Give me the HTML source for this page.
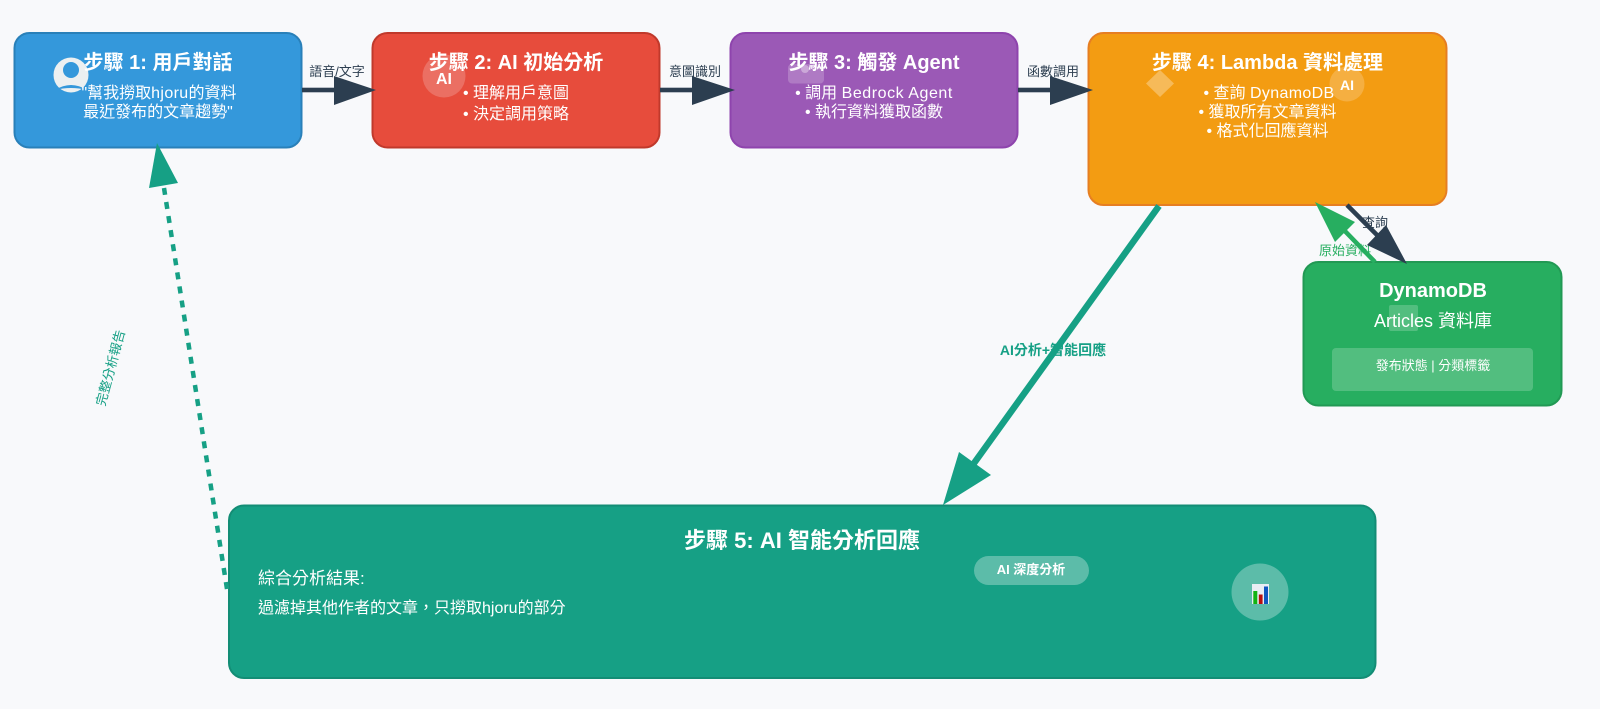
<!DOCTYPE html>
<html><head><meta charset="utf-8"><style>
html,body{margin:0;padding:0;background:#f8f9fb;width:1600px;height:709px;overflow:hidden}
svg{display:block}
text{font-family:"Liberation Sans","Noto Sans CJK TC",sans-serif;text-anchor:middle}
.w{fill:#fff}.t{font-size:20px;font-weight:700;fill:#fff}.b{font-size:16px;fill:#fff}.l{font-size:13px;fill:#2c3e50}
.s{letter-spacing:.35px}
</style></head><body>
<svg width="1600" height="709" viewBox="0 0 1600 709" xmlns="http://www.w3.org/2000/svg">
<rect width="1600" height="709" fill="#f8f9fb"/>
<rect x="14.500" y="33" width="287" height="114.500" rx="15" fill="#3498db" stroke="#2980b9" stroke-width="2"/>
<rect x="372.500" y="33" width="287" height="114.500" rx="15" fill="#e74c3c" stroke="#c0392b" stroke-width="2"/>
<rect x="730.500" y="33" width="287" height="114.500" rx="15" fill="#9b59b6" stroke="#8e44ad" stroke-width="2"/>
<rect x="1088.500" y="33" width="358" height="172" rx="15" fill="#f39c12" stroke="#e67e22" stroke-width="2"/>
<rect x="1303.500" y="262" width="258" height="143.500" rx="15" fill="#27ae60" stroke="#229954" stroke-width="2"/>
<rect x="229" y="505.500" width="1146.500" height="172.500" rx="15" fill="#16a085" stroke="#138d75" stroke-width="2"/>

<circle cx="71" cy="75" r="17.500" fill="#ecf0f1"/>
<circle cx="71" cy="70" r="8" fill="#3498db"/>
<path d="M55 90Q71 80 87 90Q71 86 55 90Z" fill="#3498db"/>
<circle cx="444" cy="76" r="21.500" fill="#fff" fill-opacity=".2"/>
<rect x="788" y="64" width="36" height="19.500" rx="4" fill="#fff" fill-opacity=".2"/>
<circle cx="805" cy="69" r="4" fill="#fff" fill-opacity=".35"/>
<polygon points="1160,70 1174,83.500 1160,97 1146,83.500" fill="#fff" fill-opacity=".3"/>
<circle cx="1347" cy="84" r="17.500" fill="#fff" fill-opacity=".2"/>
<rect x="1389" y="305" width="29" height="26" rx="2" fill="#fff" fill-opacity=".2"/>
<rect x="1332" y="348" width="201" height="43" rx="4" fill="#fff" fill-opacity=".2"/>
<rect x="974" y="556" width="115" height="29" rx="14.500" fill="#fff" fill-opacity=".3"/>
<circle cx="1260" cy="592" r="28.500" fill="#fff" fill-opacity=".3"/>
<rect x="1252" y="584" width="17" height="20" fill="#e8edf3"/>
<rect x="1253.300" y="591" width="4" height="13" fill="#12b312"/>
<rect x="1258.800" y="594.500" width="3.800" height="9.500" fill="#b80f0f"/>
<rect x="1264" y="586.500" width="4" height="17.500" fill="#0f56c0"/>

<text class="t" x="158" y="69">步驟 1: 用戶對話</text>
<text class="b" x="159" y="98">"幫我撈取<tspan class="s">hjoru</tspan>的資料</text>
<text class="b" x="158" y="117">最近發布的文章趨勢"</text>
<text class="t" x="516" y="69">步驟 2: AI 初始分析</text>
<text x="444" y="84" font-size="16" font-weight="700" fill="#fff">AI</text>
<text class="b" x="516" y="98">• 理解用戶意圖</text>
<text class="b" x="516" y="119">• 決定調用策略</text>
<text class="t" x="874" y="69">步驟 3: 觸發 Agent</text>
<text class="b" x="874" y="98">• 調用 <tspan style="letter-spacing:.55px">Bedrock Agent</tspan></text>
<text class="b" x="874" y="117">• 執行資料獲取函數</text>
<text class="t" x="1267.500" y="69">步驟 4: Lambda 資料處理</text>
<text x="1347" y="90" font-size="14" font-weight="700" fill="#fff">AI</text>
<text class="b" x="1269" y="98">• 查詢 <tspan class="s">DynamoDB</tspan></text>
<text class="b" x="1267.500" y="117">• 獲取所有文章資料</text>
<text class="b" x="1267.500" y="136">• 格式化回應資料</text>
<text class="t" x="1433" y="297">DynamoDB</text>
<text x="1433" y="327" font-size="18" fill="#fff">Articles 資料庫</text>
<text x="1433" y="370" font-size="13" fill="#fff">發布狀態 | 分類標籤</text>
<text x="802" y="548" font-size="22" font-weight="700" fill="#fff">步驟 5: AI 智能分析回應</text>
<text x="258" y="584" font-size="17" fill="#fff" style="text-anchor:start">綜合分析結果:</text>
<text x="258" y="613" font-size="16" fill="#fff" style="text-anchor:start">過濾掉其他作者的文章，只撈取hjoru的部分</text>
<text x="1031" y="574" font-size="13" font-weight="700" fill="#fff">AI 深度分析</text>

<text class="l" x="337" y="76">語音/文字</text>
<text class="l" x="695" y="76">意圖識別</text>
<text class="l" x="1053" y="76">函數調用</text>
<text class="l" x="1375" y="227">查詢</text>
<text x="1345" y="255" font-size="13" fill="#27ae60">原始資料</text>
<text x="1053" y="355" font-size="14" font-weight="700" fill="#16a085">AI分析+智能回應</text>
<text x="111" y="368" font-size="13" fill="#16a085" transform="rotate(-75 111 368)" dy="4">完整分析報告</text>

<g fill="#2c3e50" stroke="none">
<rect x="302" y="87.700" width="34" height="4.600"/><polygon points="334,76 376,90 334,105"/>
<rect x="660" y="87.700" width="34" height="4.600"/><polygon points="692,76 735,90 692,105"/>
<rect x="1018" y="87.700" width="34" height="4.600"/><polygon points="1050,76 1093,90 1050,105"/>
</g>
<line x1="1375" y1="262" x2="1340" y2="226" stroke="#27ae60" stroke-width="4.500"/>
<polygon points="1315,202 1355,222 1335,242" fill="#27ae60"/>
<line x1="1347" y1="205" x2="1382" y2="240" stroke="#2c3e50" stroke-width="4.500"/>
<polygon points="1407,264 1367,245 1386,225" fill="#2c3e50"/>
<line x1="1159" y1="206" x2="972" y2="466" stroke="#16a085" stroke-width="6.500"/>
<polygon points="943,505 959,452 991,475" fill="#16a085"/>
<line x1="227" y1="589" x2="164" y2="188" stroke="#16a085" stroke-width="4.500" stroke-dasharray="7 7.250"/>
<polygon points="157,143 149,188 178,183" fill="#16a085"/>
</svg>
</body></html>
